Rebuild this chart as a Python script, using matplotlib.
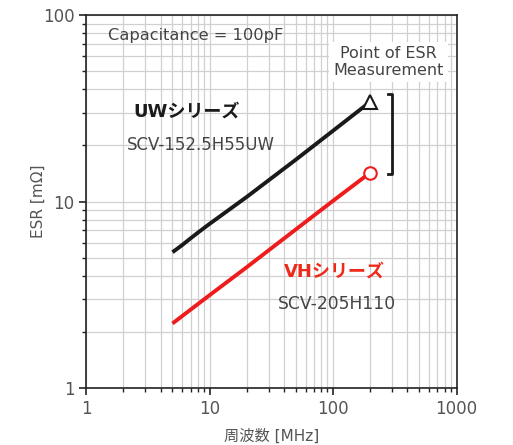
import matplotlib
matplotlib.use("Agg")
import matplotlib.pyplot as plt

plt.rcParams['font.family'] = ['DejaVu Sans', 'Noto Sans CJK JP']

# frequency [MHz] and ESR [mOhm]
uw_freq = [5, 6, 7, 8, 10, 20, 50, 100, 200]
uw_esr = [5.35, 5.85, 6.35, 6.8, 7.6, 10.6, 16.8, 24.0, 34.3]
vh_freq = [5, 10, 20, 50, 100, 200]
vh_esr = [2.22, 3.15, 4.45, 7.1, 10.1, 14.3]

xticks = [1, 10, 100, 1000]
xticklabels = ["1", "10", "100", "1000"]
yticks = [1, 10, 100]
yticklabels = ["1", "10", "100"]

txt = "#444444"

fig = plt.figure(figsize=(5.13, 4.45), dpi=100)
ax = fig.add_axes([0.168, 0.128, 0.722, 0.838])

ax.plot(uw_freq, uw_esr, color="#1a1a1a", lw=2.8, solid_capstyle="butt", zorder=3)
ax.plot(vh_freq, vh_esr, color="#ee1c1c", lw=2.8, solid_capstyle="butt", zorder=3)
ax.plot(uw_freq[-1], uw_esr[-1], marker="^", ms=10, mfc="white", mec="#1a1a1a", mew=1.5, zorder=4)
ax.plot(vh_freq[-1], vh_esr[-1], marker="o", ms=9, mfc="white", mec="#ee1c1c", mew=1.5, zorder=4)

# bracket linking the two measurement points
bx = 300
ax.plot([bx * 0.92, bx, bx, bx * 0.92], [uw_esr[-1] * 1.1, uw_esr[-1] * 1.1, vh_esr[-1] * 0.98, vh_esr[-1] * 0.98],
        color="#1a1a1a", lw=2, zorder=3)

ax.set_xscale("log")
ax.set_yscale("log")
ax.set_xlim(1, 1000)
ax.set_ylim(1, 100)
ax.set_xticks(xticks)
ax.set_xticklabels(xticklabels)
ax.set_yticks(yticks)
ax.set_yticklabels(yticklabels)
ax.grid(True, which="both", color="#d0d0d0", lw=0.9)
ax.set_axisbelow(True)
ax.tick_params(which="both", direction="out", colors="#222222", labelcolor="#555555", labelsize=12)
ax.tick_params(which="major", length=5, width=1.2)
ax.tick_params(which="minor", length=3, width=1)
ax.tick_params(axis="y", labelleft=True, which="minor", labelsize=0)
for s in ax.spines.values():
    s.set_color("#222222")
    s.set_linewidth(1.2)

ax.set_xlabel("周波数 [MHz]", color="#555555", fontsize=11, labelpad=8)
ax.set_ylabel("ESR [mΩ]", color="#555555", fontsize=11, labelpad=-2)

ax.text(1.5, 78, "Capacitance = 100pF", color=txt, fontsize=11.7, va="center")
ax.text(282, 56, "Point of ESR\nMeasurement", color=txt, fontsize=11.5, ha="center", va="center",
        linespacing=1.1, bbox=dict(fc="white", ec="none", pad=3))
ax.text(2.4, 30.6, "UWシリーズ", color="#1a1a1a", fontsize=13, fontweight="bold", va="center")
ax.text(2.15, 20.1, "SCV-152.5H55UW", color=txt, fontsize=12, va="center")
ax.text(39.6, 4.2, "VHシリーズ", color="#ee2a1a", fontsize=13, fontweight="bold", va="center")
ax.text(35.4, 2.82, "SCV-205H110", color=txt, fontsize=12.3, va="center")

fig.savefig("out.png", dpi=100)
